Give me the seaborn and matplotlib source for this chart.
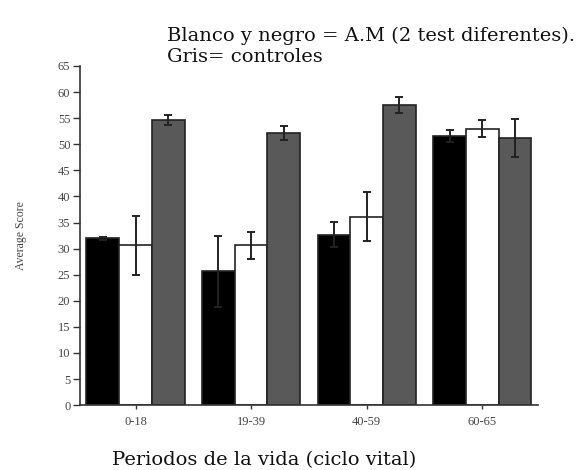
import numpy as np
import pandas as pd
import matplotlib
matplotlib.use("Agg")
import matplotlib.pyplot as plt
import seaborn as sns

# ---- data ----
periods = ["0-18", "19-39", "40-59", "60-65"]
groups = ["A.M test 1", "A.M test 2", "Controles"]
test1_mean = [32.0, 25.7, 32.7, 51.6]
test1_err = [0.3, 6.8, 2.4, 1.1]
test2_mean = [30.6, 30.6, 36.1, 53.0]
test2_err = [5.6, 2.5, 4.7, 1.7]
control_mean = [54.6, 52.2, 57.5, 51.2]
control_err = [1.0, 1.3, 1.5, 3.7]

df = pd.DataFrame({
    "period": periods * 3,
    "group": [g for g in groups for _ in periods],
    "score": test1_mean + test2_mean + control_mean,
    "err": test1_err + test2_err + control_err,
})

sns.set_style("ticks")
plt.rcParams["font.family"] = ["Liberation Serif", "DejaVu Serif"]

fig = plt.figure(figsize=(5.82, 4.70), dpi=100)
ax = fig.add_axes([0.1375, 0.138, 0.7865, 0.7216])

palette = {"A.M test 1": "black", "A.M test 2": "white", "Controles": "#595959"}
sns.barplot(data=df, x="period", y="score", hue="group", order=periods,
            hue_order=groups, palette=palette, errorbar=None, width=0.85,
            edgecolor="#222222", linewidth=1.2, legend=False, ax=ax)

# error bars on top of the bars, positioned from the drawn patches
bars = [p for p in ax.patches if p.get_height() > 0]
for i, g in enumerate(groups):
    sub = df[df["group"] == g]
    for j, per in enumerate(periods):
        p = bars[i * len(periods) + j]
        xc = p.get_x() + p.get_width() / 2
        row = sub[sub["period"] == per].iloc[0]
        ax.errorbar(xc, row["score"], yerr=row["err"], fmt="none",
                    ecolor="#222222", elinewidth=1.4, capsize=2.8,
                    capthick=1.4, zorder=5)

ax.set_xlim(-0.48, 3.48)
ax.set_ylim(0, 65)
ax.set_yticks(np.arange(0, 66, 5))
ax.tick_params(axis="both", labelsize=9, width=1, colors="#333333",
               labelcolor="#444444", pad=2)
ax.tick_params(axis="y", length=5)
ax.tick_params(axis="x", length=3, pad=5)
ax.set_xlabel("")
ax.set_ylabel("Average Score", fontsize=8.5, color="#444444", labelpad=22)
for s in ["left", "bottom"]:
    ax.spines[s].set_color("#333333")
    ax.spines[s].set_linewidth(1.2)
sns.despine(ax=ax)

title_font = ["DejaVu Serif"]
fig.text(0.287, 0.913, "Blanco y negro = A.M (2 test diferentes).", fontsize=14,
         family=title_font, color="#111111", va="baseline")
fig.text(0.287, 0.868, "Gris= controles", fontsize=14, family=title_font,
         color="#111111", va="baseline")
fig.text(0.192, 0.011, "Periodos de la vida (ciclo vital)", fontsize=14,
         family=title_font, color="#111111", va="baseline")

fig.savefig("out.png", dpi=100)
